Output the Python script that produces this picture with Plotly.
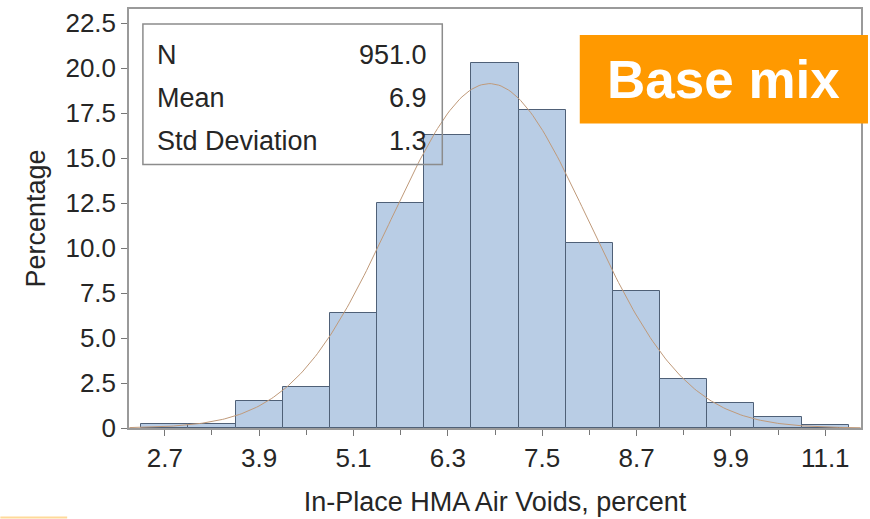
import numpy as np
import plotly.graph_objects as go

# ---- data ----
BIN_CENTERS = [2.7, 3.3, 3.9, 4.5, 5.1, 5.7, 6.3, 6.9, 7.5, 8.1, 8.7, 9.3, 9.9, 10.5, 11.1]
PERCENT = [0.25, 0.25, 1.5, 2.3, 6.4, 12.5, 16.3, 20.3, 17.7, 10.3, 7.6, 2.7, 1.4, 0.6, 0.15]
BIN_WIDTH = 0.6
X_TICKS = [2.7, 3.9, 5.1, 6.3, 7.5, 8.7, 9.9, 11.1]
Y_TICKS = [0, 2.5, 5.0, 7.5, 10.0, 12.5, 15.0, 17.5, 20.0, 22.5]
Y_TICK_TEXT = ["0", "2.5", "5.0", "7.5", "10.0", "12.5", "15.0", "17.5", "20.0", "22.5"]
STAT_LABELS = ["N", "Mean", "Std Deviation"]
STAT_VALUES = ["951.0", "6.9", "1.3"]
# fitted normal (unrounded fit parameters)
FIT_MEAN = 6.83
FIT_SD = 1.25

FONT = "Liberation Sans, Arial, sans-serif"
TXT = "#262626"

xs = np.linspace(2.25, 11.55, 300)
curve = 100 * BIN_WIDTH * np.exp(-0.5 * ((xs - FIT_MEAN) / FIT_SD) ** 2) / (FIT_SD * np.sqrt(2 * np.pi))

fig = go.Figure()
fig.add_trace(go.Bar(
    x=BIN_CENTERS, y=PERCENT, width=BIN_WIDTH,
    marker=dict(color="#b9cde5", line=dict(color="#4f6077", width=1)),
    showlegend=False, hoverinfo="x+y",
))
fig.add_trace(go.Scatter(
    x=xs, y=curve, mode="lines",
    line=dict(color="#c09a7a", width=1),
    showlegend=False, hoverinfo="skip",
))

fig.update_layout(
    width=870, height=519,
    margin=dict(l=129, r=7, t=7, b=91),
    paper_bgcolor="white", plot_bgcolor="white",
    bargap=0,
    font=dict(family=FONT, size=26, color=TXT),
    xaxis=dict(
        range=[2.245, 11.555],
        tickvals=X_TICKS, ticktext=[f"{v:.1f}" for v in X_TICKS],
        ticks="outside", ticklen=6, tickcolor="#777",
        minor=dict(dtick=0.6, tick0=2.7, ticks="outside", ticklen=5, tickcolor="#777"),
        showline=True, linecolor="#9a9a9a", linewidth=1.5, mirror=True,
        showgrid=False, zeroline=False,
        tickfont=dict(size=26, family=FONT, color=TXT),
        title=dict(text="In-Place HMA Air Voids, percent", font=dict(size=27, family=FONT, color=TXT), standoff=20),
    ),
    yaxis=dict(
        range=[0, 23.3],
        tickvals=Y_TICKS, ticktext=Y_TICK_TEXT,
        ticks="outside", ticklen=6, tickcolor="#777",
        showline=True, linecolor="#9a9a9a", linewidth=1.5, mirror=True,
        showgrid=False, zeroline=False,
        tickfont=dict(size=26, family=FONT, color=TXT),
        title=dict(text="Percentage", font=dict(size=27, family=FONT, color=TXT), standoff=12),
    ),
)

# statistics inset box
fig.add_shape(type="rect", xref="paper", yref="paper",
              x0=0.019, x1=0.428, y0=0.629, y1=0.964,
              line=dict(color="#8c8c8c", width=1.5), fillcolor="rgba(0,0,0,0)", layer="above")
row_y = [0.89, 0.787, 0.686]
for lab, val, yy in zip(STAT_LABELS, STAT_VALUES, row_y):
    fig.add_annotation(xref="paper", yref="paper", x=0.036, y=yy, text=lab,
                       showarrow=False, xanchor="left", yanchor="middle",
                       font=dict(size=27, family=FONT, color=TXT))
    fig.add_annotation(xref="paper", yref="paper", x=0.41, y=yy, text=val,
                       showarrow=False, xanchor="right", yanchor="middle",
                       font=dict(size=27, family=FONT, color=TXT))

# "Base mix" label box
fig.add_shape(type="rect", xref="paper", yref="paper",
              x0=(581 - 129) / 734, x1=(870 - 129) / 734,
              y0=(428 - 122) / 421, y1=(428 - 33) / 421,
              line=dict(width=0), fillcolor="#ff9900", layer="above")
fig.add_annotation(xref="paper", yref="paper",
                   x=(725 - 129) / 734, y=(428 - 78) / 421,
                   text="<b>Base mix</b>", showarrow=False,
                   xanchor="center", yanchor="middle",
                   font=dict(size=53, family=FONT, color="white"))

# small orange rule at the bottom-left of the slide
fig.add_shape(type="line", xref="paper", yref="paper",
              x0=(0 - 129) / 734, x1=(67 - 129) / 734,
              y0=(428 - 518) / 421, y1=(428 - 518) / 421,
              line=dict(color="#ffd999", width=2))

fig.write_html("out.html")
